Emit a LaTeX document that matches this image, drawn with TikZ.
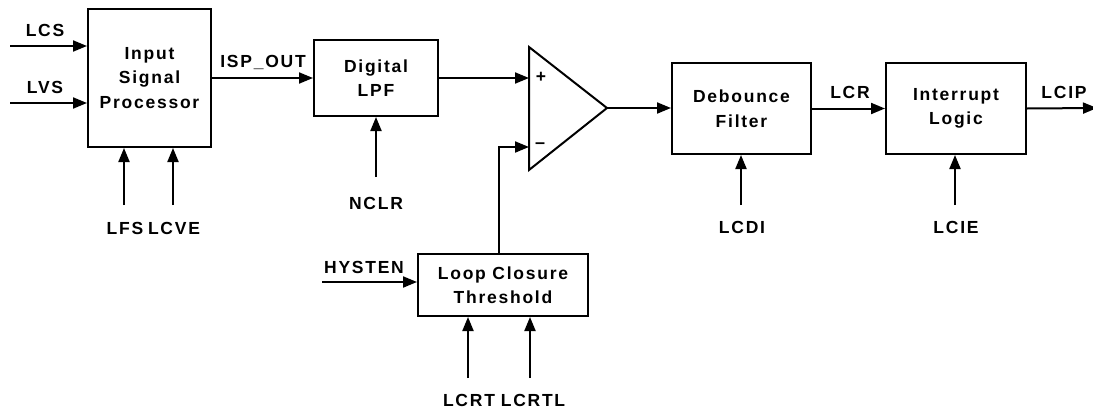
\documentclass[tikz,border=0pt]{standalone}
\usepackage{fontspec}
\setmainfont{Liberation Sans}[LetterSpace=10]
\usetikzlibrary{arrows.meta}
\begin{document}
\begin{tikzpicture}[x=1pt,y=-1pt,
  every node/.style={font=\bfseries\fontsize{17.5}{24.5}\selectfont, inner sep=0pt},
  blk/.style={draw, line width=2pt, align=center},
  wire/.style={line width=2pt},
  arr/.style={wire, -{Triangle[length=14pt,width=11pt]}},
  lbl/.style={anchor=center}]
\useasboundingbox (0,0) rectangle (1093,410);
% blocks
\node[blk, minimum width=123pt, minimum height=138pt] (isp) at (149.5,78) {Input\\Signal\\Processor};
\node[blk, minimum width=124pt, minimum height=76pt] (lpf) at (376,78) {Digital\\LPF};
\node[blk, minimum width=139pt, minimum height=91pt] (deb) at (741.5,108.5) {Debounce\\Filter};
\node[blk, minimum width=140pt, minimum height=91pt] (intl) at (956,108.5) {Interrupt\\Logic};
\node[blk, minimum width=170pt, minimum height=62pt] (lct) at (503,285) {Loop Closure\\Threshold};
% comparator
\coordinate (ctop) at (529,47);
\coordinate (cbot) at (529,170);
\coordinate (cout) at (607,108);
\coordinate (cplus) at (529,78);
\coordinate (cminus) at (529,147);
\coordinate (mcorner) at (499,147);
\draw[wire, line join=miter] (ctop) -- (cout) -- (cbot) -- cycle;
\node (plus) at (541,77) {+};
\node (minus) at (541,146) {\fontsize{18}{18}\selectfont\textbf{--}};
% input coordinates
\coordinate (lcsS) at (10,46);
\coordinate (lvsS) at (10,103);
\coordinate (lfsS) at (124,205);
\coordinate (lcveS) at (173,205);
\coordinate (nclrS) at (376,177);
\coordinate (lcdiS) at (741,205);
\coordinate (lcieS) at (955,205);
\coordinate (hystS) at (322,282);
\coordinate (lcrtS) at (468,378);
\coordinate (lcrtlS) at (530,378);
\coordinate (lcipE) at (1097,108);
% connectors
\draw[arr] (lcsS) -- (lcsS -| isp.west);
\draw[arr] (lvsS) -- (lvsS -| isp.west);
\draw[arr] (lfsS) -- (lfsS |- isp.south);
\draw[arr] (lcveS) -- (lcveS |- isp.south);
\draw[arr] (isp.east |- lpf.west) -- (lpf.west);
\draw[arr] (nclrS) -- (lpf.south);
\draw[arr] (lpf.east) -- (cplus);
\draw[arr] (mcorner |- lct.north) -- (mcorner) -- (cminus);
\draw[arr] (cout) -- (cout -| deb.west);
\draw[arr] (lcdiS) -- (lcdiS |- deb.south);
\draw[arr] (deb.east) -- (intl.west);
\draw[arr] (lcieS) -- (lcieS |- intl.south);
\draw[arr] (intl.east) -- (lcipE);
\draw[arr] (hystS) -- (hystS -| lct.west);
\draw[arr] (lcrtS) -- (lcrtS |- lct.south);
\draw[arr] (lcrtlS) -- (lcrtlS |- lct.south);
% labels
\node[lbl] (tlcs) at (45,30) {LCS};
\node[lbl] (tlvs) at (45,87) {LVS};
\node[lbl] (tlfs) at (125,228) {LFS};
\node[lbl] (tlcve) at (174,228) {LCVE};
\node[lbl] (tisp) at (263,62) {ISP\_OUT};
\node[lbl] (tnclr) at (376,203) {NCLR};
\node[lbl] (tlcdi) at (742,227) {LCDI};
\node[lbl] (tlcr) at (850,92) {LCR};
\node[lbl] (tlcie) at (956,227) {LCIE};
\node[lbl] (tlcip) at (1064,92) {LCIP};
\node[lbl] (thyst) at (364,267) {HYSTEN};
\node[lbl] (tlcrt) at (469,400) {LCRT};
\node[lbl] (tlcrtl) at (533,400) {LCRTL};
\end{tikzpicture}
\end{document}
